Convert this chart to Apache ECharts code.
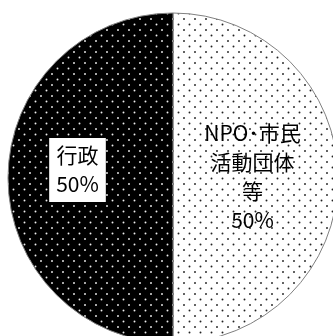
<!DOCTYPE html>
<html>
<head>
<meta charset="utf-8">
<script src="https://cdn.jsdelivr.net/npm/echarts@6/dist/echarts.min.js"></script>
<style>html,body{margin:0;padding:0;background:#fff;}#c{width:333px;height:336px;}</style>
</head>
<body>
<div id="c"></div>
<script>
const categories = ['NPO･市民\n活動団体\n等', '行政'];
const values = [50, 50];

function dotPattern(bg, fg) {
  const c = document.createElement('canvas');
  c.width = 11; c.height = 11;
  const g = c.getContext('2d');
  g.fillStyle = bg; g.fillRect(0, 0, 11, 11);
  g.fillStyle = fg;
  g.beginPath(); g.arc(2.5, 2.5, 0.95, 0, Math.PI * 2); g.fill();
  g.beginPath(); g.arc(8, 8, 0.95, 0, Math.PI * 2); g.fill();
  return c;
}
const whiteDots = dotPattern('#ffffff', '#222222');
const blackDots = dotPattern('#000000', '#eeeeee');

const chart = echarts.init(document.getElementById('c'), null, {renderer: 'canvas'});
chart.setOption({
  animation: false,
  series: [{
    type: 'pie',
    silent: true,
    center: [173, 178],
    radius: 165,
    startAngle: 90,
    clockwise: true,
    itemStyle: { borderColor: '#808080', borderWidth: 1 },
    label: {
      position: 'inside',
      formatter: '{b}\n{d}%',
      fontFamily: 'Noto Sans CJK JP',
      fontSize: 21,
      lineHeight: 29,
      color: '#000'
    },
    labelLine: { show: false },
    data: [
      { name: categories[0], value: values[0],
        itemStyle: { color: { image: whiteDots, repeat: 'repeat' } },
        label: { offset: [-6, -1] } },
      { name: categories[1], value: values[1],
        itemStyle: { color: { image: blackDots, repeat: 'repeat' } },
        label: { offset: [-10, -8], backgroundColor: '#fff', padding: [6, 7, 0, 7] } }
    ]
  }]
});
</script>
</body>
</html>
